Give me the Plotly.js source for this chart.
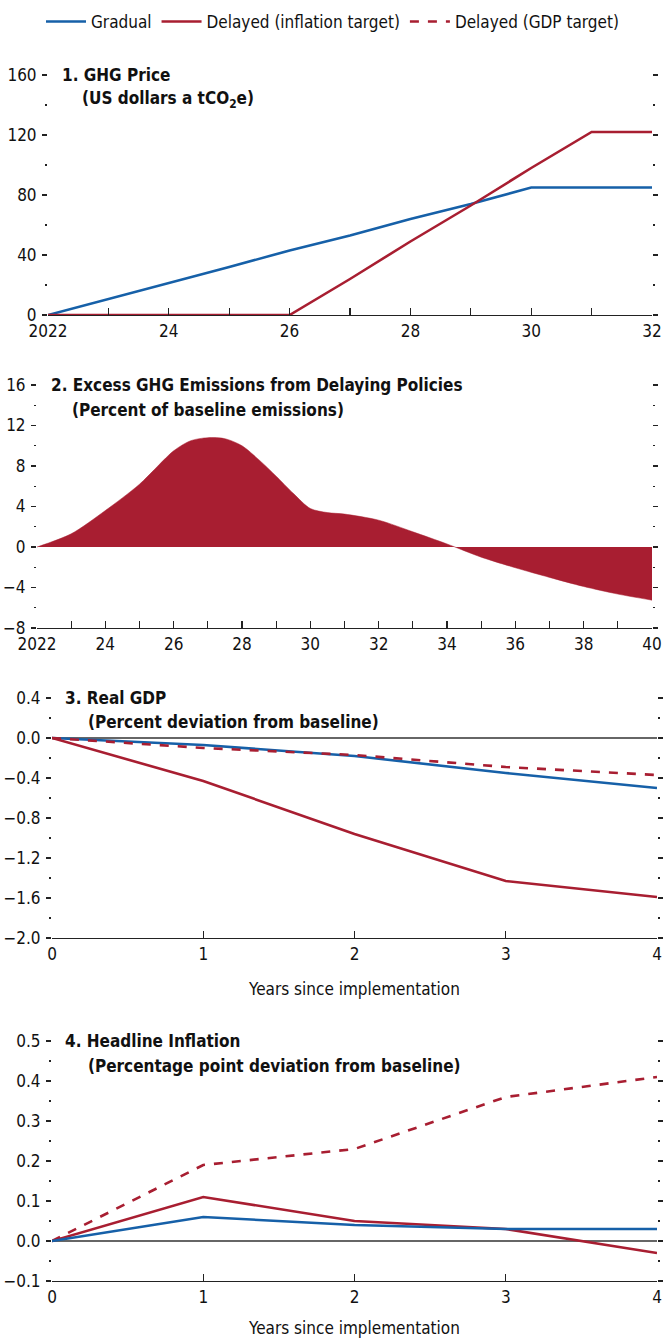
<!DOCTYPE html>
<html>
<head>
<meta charset="utf-8">
<script src="https://cdn.plot.ly/plotly-3.0.1.min.js"></script>
<style>html,body{margin:0;padding:0;background:#fff;}#chart{width:664px;height:1340px;}</style>
</head>
<body>
<div id="chart"></div>
<script>
// ---- Data ----
const seriesNames = ["Gradual", "Delayed (inflation target)", "Delayed (GDP target)"];

// Panel 1: GHG price (US dollars a tCO2e)
const years1 = [2022, 2023, 2024, 2025, 2026, 2027, 2028, 2029, 2030, 2031, 2032];
const price_gradual = [0, 10.5, 21, 32, 43, 53, 64, 74, 85, 85, 85];
const price_delayed = [0, 0, 0, 0, 0, 24, 49, 73, 98, 122, 122];
const ticks1 = [2022, 2024, 2026, 2028, 2030, 2032];
const tickText1 = ["2022", "24", "26", "28", "30", "32"];

// Panel 2: Excess GHG emissions (percent of baseline emissions)
const years2 = [2022, 2023, 2024, 2025, 2026, 2026.5, 2027, 2027.5, 2028, 2028.5, 2029, 2029.5, 2030, 2030.5, 2031, 2032, 2033, 2034, 2035, 2036, 2037, 2038, 2039, 2040];
const excess = [0, 1.3, 3.6, 6.2, 9.5, 10.5, 10.8, 10.7, 10.0, 8.6, 7.0, 5.3, 3.8, 3.4, 3.25, 2.65, 1.5, 0.3, -1.0, -2.05, -3.0, -3.9, -4.65, -5.25];
const ticks2 = [2022, 2024, 2026, 2028, 2030, 2032, 2034, 2036, 2038, 2040];
const tickText2 = ["2022", "24", "26", "28", "30", "32", "34", "36", "38", "40"];

// Panels 3-4: years since implementation
const yrs = [0, 1, 2, 3, 4];
const gdp_gradual = [0, -0.07, -0.18, -0.35, -0.50];
const gdp_delayed_inf = [0, -0.43, -0.96, -1.43, -1.59];
const gdp_delayed_gdp = [0, -0.10, -0.17, -0.29, -0.37];

const infl_gradual = [0, 0.06, 0.04, 0.03, 0.03];
const infl_delayed_inf = [0, 0.11, 0.05, 0.03, -0.03];
const infl_delayed_gdp = [0, 0.19, 0.23, 0.36, 0.41];

// ---- Style ----
const BLUE = "#1660a8";
const RED = "#a81e31";
const FONT = "DejaVu Sans Condensed, Liberation Sans Narrow, sans-serif";
const FS = 17;
const W = 664, H = 1340;
const px = v => v / W;
const py = v => 1 - v / H;
const mkFont = (size) => ({family: FONT, size: size, color: "#111", stretch: "condensed"});

const traces = [
  {x: years1, y: price_gradual, xaxis: "x", yaxis: "y", mode: "lines", name: seriesNames[0], line: {color: BLUE, width: 2.6}, showlegend: true},
  {x: years1, y: price_delayed, xaxis: "x", yaxis: "y", mode: "lines", name: seriesNames[1], line: {color: RED, width: 2.6}, showlegend: true},
  {x: [2022], y: [null], xaxis: "x", yaxis: "y", mode: "lines", name: seriesNames[2], line: {color: RED, width: 2.6, dash: "dash"}, showlegend: true},

  {x: years2, y: excess, xaxis: "x2", yaxis: "y2", mode: "lines", fill: "tozeroy", fillcolor: RED, line: {color: RED, width: 0.5, shape: "spline", smoothing: 0.8}, showlegend: false},

  {x: yrs, y: gdp_gradual, xaxis: "x3", yaxis: "y3", mode: "lines", line: {color: BLUE, width: 2.6}, showlegend: false},
  {x: yrs, y: gdp_delayed_gdp, xaxis: "x3", yaxis: "y3", mode: "lines", line: {color: RED, width: 2.6, dash: "dash"}, showlegend: false},
  {x: yrs, y: gdp_delayed_inf, xaxis: "x3", yaxis: "y3", mode: "lines", line: {color: RED, width: 2.6}, showlegend: false},

  {x: yrs, y: infl_delayed_gdp, xaxis: "x4", yaxis: "y4", mode: "lines", line: {color: RED, width: 2.6, dash: "dash"}, showlegend: false},
  {x: yrs, y: infl_delayed_inf, xaxis: "x4", yaxis: "y4", mode: "lines", line: {color: RED, width: 2.6}, showlegend: false},
  {x: yrs, y: infl_gradual, xaxis: "x4", yaxis: "y4", mode: "lines", line: {color: BLUE, width: 2.6}, showlegend: false}
];

const tickFont = mkFont(FS);

function xAxis(domain, anchor, range, extra) {
  return Object.assign({
    domain: domain, anchor: anchor, range: range,
    showgrid: false, zeroline: false,
    showline: true, linecolor: "#222", linewidth: 1.3,
    ticks: "inside", ticklen: 7, tickcolor: "#222", tickwidth: 1.2,
    tickfont: tickFont, fixedrange: true
  }, extra);
}
function yAxis(domain, anchor, range, dtick, minorDtick, fmt, extra) {
  return Object.assign({
    domain: domain, anchor: anchor, range: range,
    showgrid: false, zeroline: false, showline: false,
    ticks: "outside", ticklen: 5, tickcolor: "#222", tickwidth: 1.2,
    mirror: "ticks", dtick: dtick, tick0: 0, tickformat: fmt,
    minor: {dtick: minorDtick, ticks: "outside", ticklen: 2, tickcolor: "#222", tickwidth: 1.2},
    tickfont: tickFont, fixedrange: true, ticklabelstandoff: 2
  }, extra);
}

const xTitle3 = {text: "Years since implementation", font: mkFont(FS), standoff: 20};
const xTitle4 = {text: "Years since implementation", font: mkFont(FS), standoff: 16};

const layout = {
  width: W, height: H, autosize: false,
  margin: {l: 0, r: 0, t: 0, b: 0},
  paper_bgcolor: "#fff", plot_bgcolor: "rgba(0,0,0,0)",
  font: mkFont(FS),
  showlegend: true,
  legend: {orientation: "h", x: px(624), xanchor: "right", y: py(22), yanchor: "middle",
           font: mkFont(FS), itemwidth: 40, tracegroupgap: 0, traceorder: "normal"},

  xaxis: xAxis([px(48), px(652)], "y", [2022, 2032], {tickvals: ticks1, ticktext: tickText1,
          minor: {dtick: 1, tick0: 2022, ticks: "inside", ticklen: 7, tickcolor: "#222", tickwidth: 1.2}}),
  yaxis: yAxis([py(315), py(75)], "x", [0, 160], 40, 20, "d", {}),

  xaxis2: xAxis([px(37), px(652)], "y2", [2022, 2040], {tickvals: ticks2, ticktext: tickText2,
          minor: {dtick: 1, tick0: 2022, ticks: "inside", ticklen: 7, tickcolor: "#222", tickwidth: 1.2}}),
  yaxis2: yAxis([py(628), py(385)], "x2", [-8, 16], 4, 2, "d", {}),

  xaxis3: xAxis([px(52), px(657)], "y3", [0, 4], {dtick: 1, title: xTitle3}),
  yaxis3: yAxis([py(938), py(698)], "x3", [-2, 0.4], 0.4, 0.2, ".1f", {zeroline: true, zerolinecolor: "#666", zerolinewidth: 1.2}),

  xaxis4: xAxis([px(52), px(657)], "y4", [0, 4], {dtick: 1, title: xTitle4}),
  yaxis4: yAxis([py(1281), py(1041)], "x4", [-0.1, 0.5], 0.1, 0.05, ".1f", {zeroline: true, zerolinecolor: "#666", zerolinewidth: 1.2}),

  annotations: [
    {text: "<b>1. GHG Price</b>", x: px(60), y: py(75)},
    {text: "<b>(US dollars a tCO<sub>2</sub>e)</b>", x: px(80), y: py(100)},
    {text: "<b>2. Excess GHG Emissions from Delaying Policies</b>", x: px(49), y: py(385)},
    {text: "<b>(Percent of baseline emissions)</b>", x: px(70), y: py(410)},
    {text: "<b>3. Real GDP</b>", x: px(63), y: py(698)},
    {text: "<b>(Percent deviation from baseline)</b>", x: px(86), y: py(722)},
    {text: "<b>4. Headline Inflation</b>", x: px(63), y: py(1041)},
    {text: "<b>(Percentage point deviation from baseline)</b>", x: px(86), y: py(1066)}
  ].map(a => Object.assign({xref: "paper", yref: "paper", xanchor: "left", yanchor: "middle",
        showarrow: false, font: mkFont(FS)}, a))
};

Plotly.newPlot("chart", traces, layout, {staticPlot: true, displayModeBar: false});
</script>
</body>
</html>
